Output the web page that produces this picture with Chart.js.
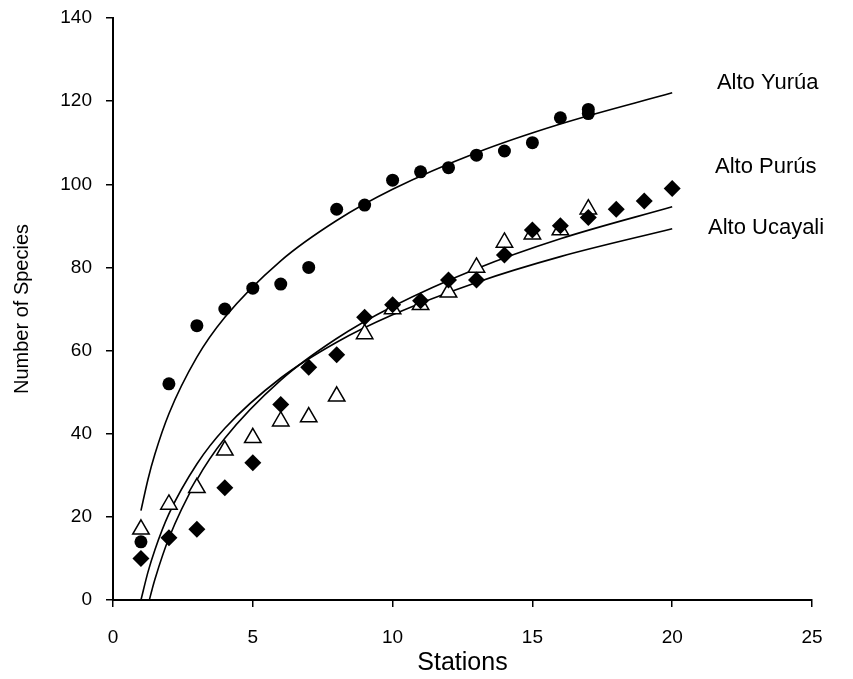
<!DOCTYPE html>
<html>
<head>
<meta charset="utf-8">
<script src="https://cdn.jsdelivr.net/npm/chart.js@4/dist/chart.umd.min.js"></script>
<style>
  body { margin: 0; background: #fff; }
</style>
</head>
<body>
<canvas id="chart" width="853" height="679"></canvas>
<script>
// observed species counts per station
var yuruaStations = [1,2,3,4,5,6,7,8,9,10,11,12,13,14,15,16,17,17];
var yuruaSpecies = [14,52,66,70,75,76,80,94,95,101,103,104,107,108,110,116,117,118];

var purusStations = [1,2,3,4,5,6,7,8,9,10,11,12,13,14,15,16,17,18,19,20];
var purusSpecies = [10,15,17,27,33,47,56,59,68,71,72,77,77,83,89,90,92,94,96,99];

var ucayaliStations = [1,2,3,4,5,6,7,8,9,10,11,12,13,14,15,16,17];
var ucayaliSpecies = [17,23,27,36,39,43,44,49,64,70,71,74,80,86,88,89,94];

// fitted curves
var yuruaFitX = [1,1.25,1.5,2,3,4,6,8,10,13,16,20];
var yuruaFitY = [21.5,29,35.1,44.8,58.4,68,81.6,91.3,98.8,107.6,114.5,122];

var purusFitX = [1.3,1.4,1.5,2,3,4,6,8,10,13,16,20];
var purusFitY = [0,2.6,5,14.9,28.9,38.9,52.9,62.9,70.6,79.7,86.9,94.6];

var ucayaliFitX = [1,1.25,1.5,2,3,4,6,8,10,13,16,20];
var ucayaliFitY = [0,6.7,12.1,20.7,32.7,41.3,53.4,62,68.6,76.4,82.6,89.3];

var siteNames = ['Alto Yurúa', 'Alto Purús', 'Alto Ucayali'];

function pts(xs, ys) {
  return xs.map(function(x, i) { return {x: x, y: ys[i]}; });
}

var FONT = '"Liberation Sans", Arial, sans-serif';

// names written next to the curve ends
var siteLabels = {
  id: 'siteLabels',
  afterDatasetsDraw: function(chart) {
    var ctx = chart.ctx;
    var xs = chart.scales.x, ys = chart.scales.y;
    var where = [[21.6, 124.4], [21.53, 104.2], [21.28, 89.5]];
    ctx.save();
    ctx.font = '22px ' + FONT;
    ctx.fillStyle = '#000';
    ctx.textAlign = 'left';
    ctx.textBaseline = 'middle';
    siteNames.forEach(function(name, i) {
      ctx.fillText(name, xs.getPixelForValue(where[i][0]), ys.getPixelForValue(where[i][1]));
    });
    ctx.restore();
  }
};

function fitLine(xs, ys) {
  return {
    data: pts(xs, ys),
    showLine: true,
    borderColor: '#000',
    borderWidth: 1.6,
    pointRadius: 0,
    cubicInterpolationMode: 'monotone',
    fill: false
  };
}

new Chart(document.getElementById('chart'), {
  type: 'scatter',
  data: {
    datasets: [
      {
        label: siteNames[0],
        data: pts(yuruaStations, yuruaSpecies),
        pointStyle: 'circle',
        pointRadius: 6.5,
        backgroundColor: '#000',
        borderColor: '#000',
        borderWidth: 0
      },
      {
        label: siteNames[1],
        data: pts(purusStations, purusSpecies),
        pointStyle: 'rectRot',
        pointRadius: 8.5,
        backgroundColor: '#000',
        borderColor: '#000',
        borderWidth: 0
      },
      {
        label: siteNames[2],
        data: pts(ucayaliStations, ucayaliSpecies),
        pointStyle: 'triangle',
        pointRadius: 9.5,
        backgroundColor: '#fff',
        borderColor: '#000',
        borderWidth: 1.5
      },
      fitLine(yuruaFitX, yuruaFitY),
      fitLine(purusFitX, purusFitY),
      fitLine(ucayaliFitX, ucayaliFitY)
    ]
  },
  options: {
    responsive: false,
    animation: false,
    layout: { padding: { top: 18, right: 41, left: 0, bottom: 0 } },
    plugins: {
      legend: { display: false },
      tooltip: { enabled: false }
    },
    scales: {
      x: {
        type: 'linear',
        min: 0,
        max: 25,
        ticks: { stepSize: 5, color: '#000', padding: 19, font: { family: FONT, size: 19 } },
        grid: { drawOnChartArea: false, drawTicks: true, tickLength: 7, color: '#000', lineWidth: 1.5 },
        border: { color: '#000', width: 2 },
        title: { display: true, text: 'Stations', color: '#000', font: { family: FONT, size: 25 }, padding: { top: 0, bottom: 1 } },
        afterFit: function(s) { s.height = 79; s.paddingLeft = 0; s.paddingRight = 0; }
      },
      y: {
        min: 0,
        max: 140,
        ticks: { stepSize: 20, color: '#000', padding: 14, font: { family: FONT, size: 19 } },
        grid: { drawOnChartArea: false, drawTicks: true, tickLength: 7, color: '#000', lineWidth: 1.5 },
        border: { color: '#000', width: 2 },
        title: { display: true, text: 'Number of Species', color: '#000', font: { family: FONT, size: 20 }, padding: { top: 10, bottom: 0 } },
        afterFit: function(s) { s.width = 113; s.paddingTop = 0; s.paddingBottom = 0; }
      }
    }
  },
  plugins: [siteLabels]
});
</script>
</body>
</html>
